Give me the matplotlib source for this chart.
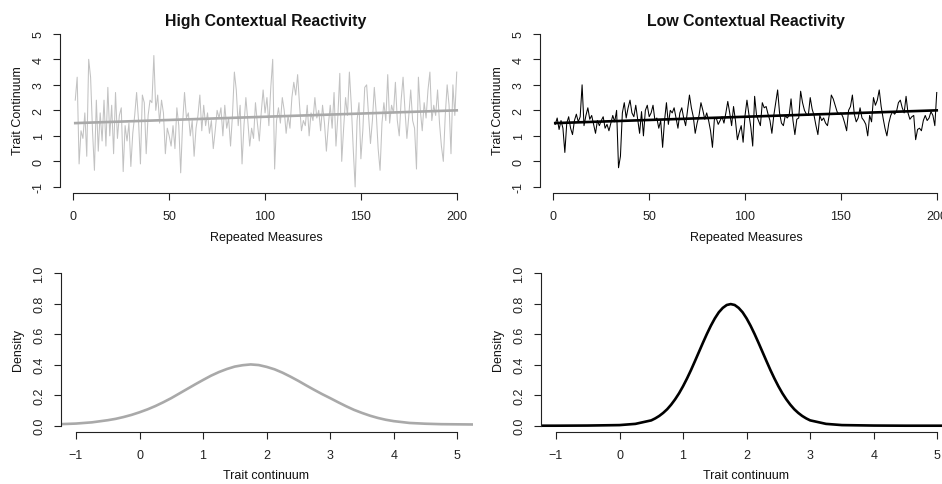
import matplotlib.pyplot as plt
import numpy as np

plt.rcParams['font.family'] = ['Liberation Sans', 'DejaVu Sans']

#%% data
measures = np.arange(1, 201)

high_series = [
    2.4, 3.3, -0.1, 1.2, 0.9, 1.9, 0.2, 4.0, 3.3, 1.2,
    -0.35, 2.4, 0.4, 1.9, 0.8, 2.4, 0.6, 2.9, 1.0, 2.2,
    0.3, 2.7, 0.9, 1.8, 2.1, -0.4, 1.4, 0.8, 1.5, -0.2,
    1.1, 1.8, 2.7, 1.6, -0.1, 2.6, 2.3, 0.3, 1.8, 2.4,
    2.3, 4.15, 2.0, 2.6, 1.5, 2.4, 1.9, 0.3, 1.3, 1.0,
    0.6, 1.4, 0.5, 2.1, 1.4, -0.45, 1.5, 2.7, 1.7, 1.9,
    1.0, 1.6, 0.2, 1.3, 1.8, 2.6, 1.2, 2.2, 1.4, 1.9,
    1.1, 1.6, 0.5, 1.2, 2.0, 1.7, 2.1, 1.0, 2.2, 1.3,
    1.7, 0.6, 1.8, 3.5, 2.8, 1.4, 2.2, -0.1, 1.4, 2.5,
    1.6, 0.6, 1.3, 0.9, 2.3, 1.5, 0.8, 1.9, 2.8, 1.9,
    2.5, 1.4, 2.9, 4.0, -0.3, 1.6, 2.1, 1.5, 2.5, 2.0,
    1.1, 1.8, 1.3, 2.5, 3.1, 2.6, 3.4, 2.2, 1.2, 1.6,
    1.4, 2.2, 1.0, 1.9, 1.6, 2.5, 1.7, 2.0, 1.2, 2.2,
    1.5, 0.4, 1.4, 2.2, 1.3, 2.7, 0.6, 1.8, 3.45, 0.0,
    1.3, 2.5, 1.8, 3.5, 2.2, 0.5, -1.0, 1.6, 2.3, 0.1,
    1.2, 2.9, 3.0, 1.8, 0.7, 1.6, 2.9, 1.9, 0.5, -0.35,
    1.5, 2.3, 1.6, 3.4, 1.5, 2.2, 1.9, 3.1, 1.6, 1.0,
    2.4, 3.3, 2.0, 0.9, 1.8, 2.8, 1.6, 1.3, -0.3, 3.3,
    2.0, 1.2, 2.3, 1.7, 2.8, 3.5, 1.6, 2.2, 1.8, 2.8,
    1.5, 0.6, 0.0, 1.8, 3.0, 2.2, 0.3, 3.0, 1.8, 3.5,
]

low_series = [
    1.45, 1.7, 1.25, 1.6, 1.3, 0.35, 1.5, 1.75, 1.3, 1.05,
    1.6, 1.85, 1.55, 1.75, 3.0, 1.4, 1.8, 2.1, 1.65, 1.8,
    1.45, 1.1, 1.6, 1.4, 1.6, 1.75, 1.3, 1.45, 1.2, 1.5,
    1.8, 1.55, 2.0, -0.25, 0.2, 1.9, 2.3, 1.7, 2.1, 2.4,
    1.9, 1.75, 2.2, 1.65, 1.1, 1.95, 1.0, 2.0, 2.2, 1.75,
    1.9, 2.2, 1.6, 1.7, 1.3, 1.6, 0.55, 1.6, 2.3, 1.45,
    2.0, 1.9, 2.1, 1.7, 1.3, 1.9, 2.1, 1.7, 1.4, 2.0,
    2.6, 2.1, 1.75, 1.1, 1.5, 1.8, 2.3, 2.0, 1.65, 1.9,
    1.6, 1.2, 0.55, 1.65, 1.7, 1.45, 1.6, 1.75, 1.5, 1.9,
    2.35, 1.9, 1.4, 2.15, 1.6, 0.85, 1.15, 1.4, 0.75, 1.8,
    2.4, 1.85, 1.35, 0.6, 2.55, 1.8, 1.6, 1.4, 2.3, 2.1,
    2.15, 1.85, 1.6, 1.1, 1.8, 2.3, 2.8, 1.9, 1.5, 1.4,
    1.8, 1.7, 1.8, 2.45, 1.6, 1.05, 1.65, 1.7, 2.75, 2.3,
    2.0, 1.85, 1.8, 2.5, 2.05, 1.8, 1.4, 1.05, 1.8, 1.6,
    1.7, 1.5, 1.4, 1.85, 2.6, 2.45, 2.2, 1.95, 1.85, 1.9,
    1.75, 1.5, 1.2, 2.0, 2.15, 2.6, 1.85, 1.55, 1.7, 2.1,
    1.7, 1.6, 1.45, 1.0, 1.8, 1.55, 2.5, 2.2, 2.4, 2.8,
    2.15, 1.7, 1.3, 1.0, 1.5, 1.8, 1.95, 1.85, 1.95, 2.3,
    2.4, 2.1, 1.9, 2.55, 1.9, 1.65, 1.75, 1.8, 0.85, 1.25,
    1.3, 1.2, 1.6, 1.8, 1.6, 1.7, 1.95, 1.8, 1.4, 2.7,
]

trend_x = [1, 200]
high_trend = [1.5, 2.0]
low_trend = [1.5, 2.0]

dens_x_high = [-1.5, -1.25, -1.0, -0.75,
               -0.5, -0.375, -0.25, -0.125, 0.0, 0.125, 0.25, 0.375, 0.5, 0.625,
               0.75, 0.875, 1.0, 1.125, 1.25, 1.375, 1.5, 1.625, 1.75, 1.875,
               2.0, 2.125, 2.25, 2.375, 2.5, 2.625, 2.75, 2.875, 3.0, 3.125,
               3.25, 3.375, 3.5, 3.625, 3.75, 3.875, 4.0,
               4.25, 4.5, 4.75, 5.0, 5.25, 5.5]
dens_high = [0.008, 0.010, 0.014, 0.022,
             0.036, 0.045, 0.057, 0.071, 0.088, 0.107, 0.129, 0.154, 0.181, 0.211,
             0.241, 0.271, 0.300, 0.328, 0.352, 0.372, 0.388, 0.397, 0.402, 0.398,
             0.386, 0.370, 0.348, 0.322, 0.294, 0.264, 0.235, 0.207, 0.181, 0.154,
             0.128, 0.104, 0.084, 0.066, 0.051, 0.039, 0.030,
             0.018, 0.013, 0.010, 0.009, 0.008, 0.008]

dens_x_low = [-1.5, -1.0, -0.5, 0.0, 0.25,
              0.5, 0.5625, 0.625, 0.6875, 0.75, 0.8125, 0.875, 0.9375, 1.0,
              1.0625, 1.125, 1.1875, 1.25, 1.3125, 1.375, 1.4375, 1.5, 1.5625,
              1.625, 1.6875, 1.75, 1.8125, 1.875, 1.9375, 2.0, 2.0625, 2.125,
              2.1875, 2.25, 2.3125, 2.375, 2.4375, 2.5, 2.5625, 2.625, 2.6875,
              2.75, 2.8125, 2.875, 2.9375, 3.0,
              3.25, 3.5, 4.0, 4.5, 5.0, 5.5]
dens_low = [0.0, 0.0, 0.001, 0.004, 0.012,
            0.035, 0.048, 0.064, 0.084, 0.108, 0.138, 0.173, 0.213, 0.259,
            0.310, 0.365, 0.424, 0.484, 0.544, 0.602, 0.656, 0.704, 0.744,
            0.773, 0.792, 0.798, 0.792, 0.773, 0.744, 0.704, 0.656, 0.602,
            0.544, 0.484, 0.424, 0.365, 0.310, 0.259, 0.213, 0.173, 0.138,
            0.108, 0.084, 0.064, 0.048, 0.035,
            0.012, 0.004, 0.001, 0.0, 0.0, 0.0]

titles = ['High Contextual Reactivity', 'Low Contextual Reactivity']
series = [high_series, low_series]
trends = [high_trend, low_trend]
dens_x = [dens_x_high, dens_x_low]
dens = [dens_high, dens_low]
line_cols = ['#c2c2c2', 'black']
fit_cols = ['#a9a9a9', 'black']

#%% figure, R base-graphics look
W, H = 942, 485
fig = plt.figure(figsize=(W / 100, H / 100), dpi=100)


def add_ax(x0, y0, x1, y1):
    # box in pixels from top-left
    return fig.add_axes([x0 / W, 1 - y1 / H, (x1 - x0) / W, (y1 - y0) / H])


def r_axes(ax, xticks, yticks, ylabels):
    for s in ['top', 'right']:
        ax.spines[s].set_visible(False)
    ax.spines['left'].set_bounds(yticks[0], yticks[-1])
    ax.spines['bottom'].set_bounds(xticks[0], xticks[-1])
    for s in ['left', 'bottom']:
        ax.spines[s].set_linewidth(0.8)
        ax.spines[s].set_color('#222222')
    ax.set_xticks(xticks)
    ax.set_yticks(yticks)
    ax.set_yticklabels(ylabels, rotation=90, va='center')
    ax.tick_params(axis='both', length=5, width=0.8, color='#222222',
                   labelsize=9, labelcolor='#222222')
    ax.tick_params(axis='x', pad=7.5)
    ax.tick_params(axis='y', pad=6)


def ftext(x, y, s, **kw):
    fig.text(x / W, 1 - y / H, s, ha='center', va='center', color='#111111', **kw)


for k in range(2):
    dx = 480 * k
    # time series
    ax = add_ax(60 + dx, 28.7, 472 + dx, 194)
    ax.plot(measures, series[k], color=line_cols[k], lw=0.75)
    ax.plot(trend_x, trends[k], color=fit_cols[k], lw=1.9)
    ax.set_xlim(-6.96, 207.96)
    ax.set_ylim(-1.24, 5.24)
    r_axes(ax, [0, 50, 100, 150, 200], [-1, 0, 1, 2, 3, 4, 5],
           ['-1', '0', '1', '2', '3', '4', '5'])
    ftext(266 + dx, 21.5, titles[k], fontsize=11.4, fontweight='bold')
    ftext(266 + dx, 238, 'Repeated Measures', fontsize=9)
    ftext(18 + dx, 111, 'Trait Continuum', fontsize=9, rotation=90)

    # density
    ax2 = add_ax(60.7 + dx, 268.2, 472.5 + dx, 432.8)
    ax2.plot(dens_x[k], dens[k], color=fit_cols[k], lw=1.9)
    ax2.set_xlim(-1.24, 5.24)
    ax2.set_ylim(-0.04, 1.04)
    r_axes(ax2, [-1, 0, 1, 2, 3, 4, 5], [0.0, 0.2, 0.4, 0.6, 0.8, 1.0],
           ['0.0', '0.2', '0.4', '0.6', '0.8', '1.0'])
    ftext(266 + dx, 476.5, 'Trait continuum', fontsize=9)
    ftext(18 + dx, 350.5, 'Density', fontsize=9, rotation=90)

fig.savefig('out.png', dpi=100)
